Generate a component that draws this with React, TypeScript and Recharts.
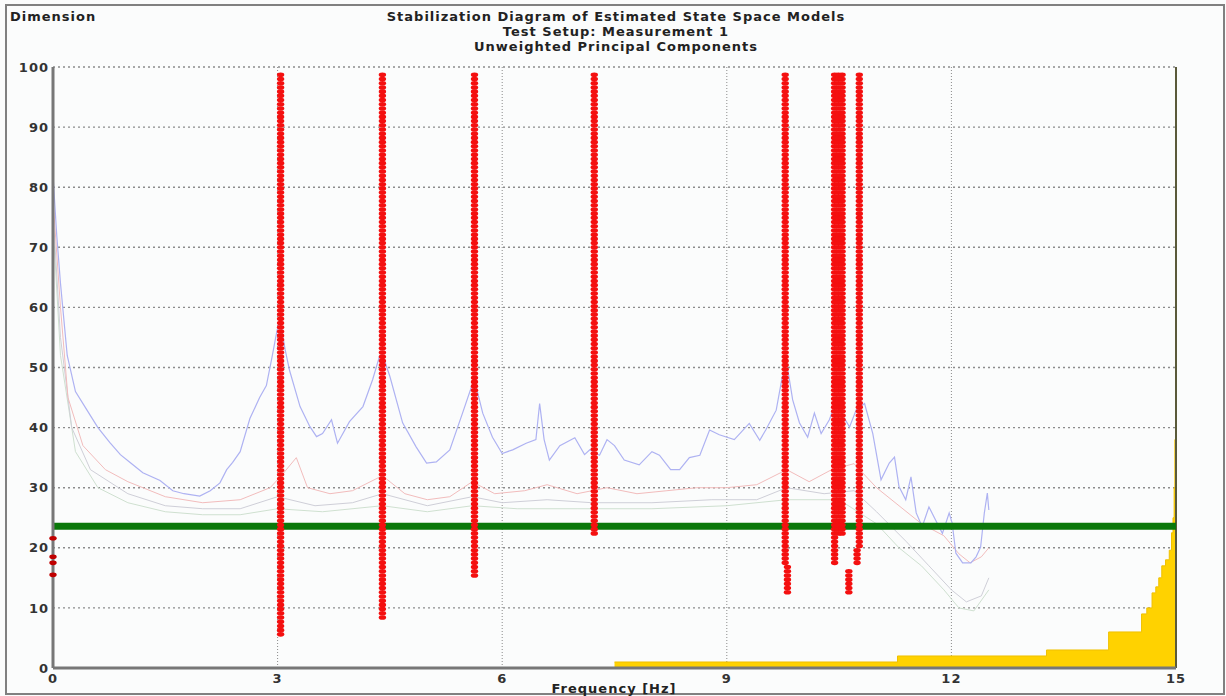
import React from 'react';
import { ComposedChart, Line, Scatter, Area, XAxis, YAxis, CartesianGrid, ReferenceLine } from 'recharts';

// model dimensions at which poles are estimated
const ORDERS = [
  5.6, 6.3, 7.0, 7.7, 8.4, 9.1, 9.8, 10.5, 11.2, 11.9, 12.6, 13.3, 14.0, 14.7, 15.4, 16.1, 16.8, 17.5, 18.2, 18.9,
  19.6, 20.3, 21.0, 21.7, 22.4, 23.1, 23.8, 24.5, 25.2, 25.9, 26.6, 27.3, 28.0, 28.7, 29.4, 30.1, 30.8, 31.5, 32.2, 32.9,
  33.6, 34.3, 35.0, 35.7, 36.4, 37.1, 37.8, 38.5, 39.2, 39.9, 40.6, 41.3, 42.0, 42.7, 43.4, 44.1, 44.8, 45.5, 46.2, 46.9,
  47.6, 48.3, 49.0, 49.7, 50.4, 51.1, 51.8, 52.5, 53.2, 53.9, 54.6, 55.3, 56.0, 56.7, 57.4, 58.1, 58.8, 59.5, 60.2, 60.9,
  61.6, 62.3, 63.0, 63.7, 64.4, 65.1, 65.8, 66.5, 67.2, 67.9, 68.6, 69.3, 70.0, 70.7, 71.4, 72.1, 72.8, 73.5, 74.2, 74.9,
  75.6, 76.3, 77.0, 77.7, 78.4, 79.1, 79.8, 80.5, 81.2, 81.9, 82.6, 83.3, 84.0, 84.7, 85.4, 86.1, 86.8, 87.5, 88.2, 88.9,
  89.6, 90.3, 91.0, 91.7, 92.4, 93.1, 93.8, 94.5, 95.2, 95.9, 96.6, 97.3, 98.0, 98.7,
];

// stable pole columns: frequency and the dimension range over which they appear
const POLE_FREQ = [3.04, 4.40, 5.63, 7.23, 9.78, 9.81, 10.44, 10.49, 10.54, 10.63, 10.77, 10.74];
const POLE_LOW = [5.6, 8.4, 15.4, 22.4, 17.5, 12.6, 17.5, 22.4, 22.4, 12.6, 20.3, 17.5];
const POLE_HIGH = [98.7, 98.7, 98.7, 98.7, 98.7, 17.0, 98.7, 98.7, 98.7, 16.1, 98.7, 19.6];

// spurious poles near 0 Hz
const ZERO_POLES = [15.5, 17.5, 18.5, 21.6];

const THRESHOLD = 23.6;

// spectrum curves (scaled to the dimension axis)
const BLUE_F = [0, 0.05, 0.1, 0.19, 0.3, 0.45, 0.6, 0.76, 0.9, 1.03, 1.2, 1.43, 1.6, 1.75, 1.96, 2.1, 2.23, 2.32, 2.4, 2.5,
  2.63, 2.76, 2.85, 2.93, 2.99, 3.03, 3.1, 3.16, 3.3, 3.43, 3.52, 3.6, 3.72, 3.8, 3.96, 4.14, 4.27, 4.36, 4.4, 4.5,
  4.67, 4.85, 4.99, 5.12, 5.3, 5.47, 5.59, 5.63, 5.74, 5.87, 6.0, 6.14, 6.32, 6.45, 6.5, 6.56, 6.63, 6.77, 6.97, 7.1,
  7.17, 7.3, 7.4, 7.5, 7.63, 7.83, 8.0, 8.1, 8.25, 8.37, 8.5, 8.64, 8.77, 8.9, 9.1, 9.3, 9.44, 9.52, 9.66, 9.74,
  9.81, 9.88, 9.97, 10.08, 10.17, 10.26, 10.37, 10.45, 10.55, 10.64, 10.73, 10.84, 10.95, 11.06, 11.17, 11.24, 11.3, 11.39, 11.46, 11.53,
  11.61, 11.7, 11.79, 11.88, 11.97, 12.01, 12.06, 12.15, 12.26, 12.33, 12.39, 12.44, 12.48, 12.5];
const BLUE_D = [82, 72, 64, 52, 46, 43, 40, 37.5, 35.5, 34.2, 32.5, 31.2, 29.5, 29, 28.6, 29.5, 30.8, 33, 34.2, 36,
  41.5, 45, 47, 52, 56, 58, 53, 49.5, 43.5, 40.2, 38.5, 39, 41.3, 37.4, 41, 43.5, 48, 51.8, 52.2, 48.5,
  40.8, 36.8, 34.1, 34.3, 36.3, 42.4, 46.8, 47.9, 42.4, 38.4, 35.7, 36.3, 37.4, 38, 44, 38, 34.6, 37, 38.3, 35.5,
  36.3, 35.4, 38, 37, 34.6, 33.8, 36, 35.4, 33, 33, 35, 35.4, 39.6, 38.8, 38, 40.7, 37.9, 39.6, 42.9, 48.4,
  50, 44.6, 40.8, 38.4, 42.4, 39, 41.3, 44, 42, 40.1, 43, 44, 39, 31.3, 34.1, 35.1, 30.2, 28, 31.8, 25.8,
  23.5, 26.8, 24.6, 22.4, 25.8, 24.1, 19.1, 17.5, 17.5, 18.5, 20.1, 25.8, 29.1, 26.3];

const PINK_F = [0, 0.1, 0.2, 0.4, 0.7, 1.0, 1.5, 2.0, 2.5, 2.9, 3.05, 3.25, 3.4, 3.7, 4.0, 4.4, 4.7, 5.0, 5.3, 5.6,
  5.9, 6.3, 6.6, 7.0, 7.4, 7.8, 8.2, 8.6, 9.0, 9.4, 9.8, 10.1, 10.4, 10.7, 11.0, 11.3, 11.6, 11.9, 12.1, 12.25, 12.4, 12.5];
const PINK_D = [78, 60, 45, 37, 33, 31, 28.5, 27.5, 28, 30, 32, 35, 30, 29, 29.5, 32, 29, 28, 28.5, 31,
  29, 29.5, 30.5, 29, 30, 29, 29.5, 30, 30, 30.5, 33, 31, 33, 34, 30, 27, 24, 22, 19, 17.5, 18.5, 20];

const GRAY_F = [0, 0.1, 0.25, 0.5, 1.0, 1.5, 2.0, 2.5, 3.0, 3.5, 4.0, 4.4, 5.0, 5.6, 6.0, 6.6, 7.2, 8.0, 8.8, 9.4,
  9.8, 10.3, 10.7, 11.0, 11.4, 11.7, 12.0, 12.2, 12.4, 12.5];
const GRAY_D = [76, 55, 40, 33, 29, 27, 26.5, 26.5, 28.5, 27, 27.5, 29, 27, 28.5, 27.5, 28, 27.5, 27.5, 28, 28,
  30, 29, 29.5, 26, 21, 17, 13, 11, 12, 15];

const GREEN_F = [0, 0.1, 0.3, 0.6, 1.0, 1.5, 2.0, 2.5, 3.0, 3.6, 4.4, 5.0, 5.6, 6.2, 7.0, 8.0, 9.0, 9.8, 10.5, 11.0,
  11.3, 11.6, 11.9, 12.1, 12.3, 12.5];
const GREEN_D = [74, 52, 36, 30, 27.5, 26, 25.5, 25.5, 26.5, 26, 27, 26, 27, 26.5, 26.5, 26.5, 27, 28, 28, 24,
  20, 17, 13, 10, 9.5, 13];

// pole count histogram (step curve along the bottom)
const HIST_F = [7.5, 11.28, 13.27, 14.1, 14.54, 14.61, 14.68, 14.73, 14.77, 14.81, 14.86, 14.91, 14.94, 14.96, 14.975, 14.985, 14.995, 15];
const HIST_D = [1, 2, 3, 6, 9, 10, 12.5, 13.5, 15, 17, 18, 19.6, 22.5, 25, 30, 38, 46, 52];

const X_TICKS = [0, 3, 6, 9, 12, 15];
const Y_TICKS = [0, 10, 20, 30, 40, 50, 60, 70, 80, 90, 100];

const zip = (fs: number[], ds: number[]) => fs.map((f, i) => ({ f, d: ds[i] }));

const poleData = POLE_FREQ.flatMap((f, i) =>
  ORDERS.filter((o) => o >= POLE_LOW[i] && o <= POLE_HIGH[i]).map((d) => ({ f, d }))
);
const zeroData = ZERO_POLES.map((d) => ({ f: 0, d }));
const thresholdData = [{ f: 0, d: THRESHOLD }, { f: 15, d: THRESHOLD }];

const FONT = '"DejaVu Sans", Verdana, sans-serif';

const PoleDot = (props: any) => (
  <ellipse cx={props.cx} cy={props.cy} rx={3.7} ry={2.3} fill={props.fill} />
);

const tickStyle = { fontFamily: FONT, fontWeight: 'bold', fontSize: 13, letterSpacing: 1, fill: '#333' };

const textStyle: React.CSSProperties = {
  position: 'absolute',
  fontFamily: FONT,
  fontWeight: 'bold',
  fontSize: 13,
  letterSpacing: 1,
  color: '#222',
  whiteSpace: 'nowrap',
  lineHeight: '15px',
};

export default function App() {
  return (
    <div style={{ position: 'absolute', left: 0, top: 0, width: 1226, height: 696, background: '#fbfcfc' }}>
      <div style={{ position: 'absolute', left: 5, top: 4, width: 1216, height: 687, border: '2px solid #808080' }} />
      <ComposedChart width={1226} height={696} margin={{ top: 67, right: 50, bottom: 0, left: 8 }}>
        <CartesianGrid vertical={false} stroke="#8c8c8c" strokeDasharray="2 3" strokeWidth={1.4} />
        <CartesianGrid horizontal={false} stroke="#8a8a8a" strokeDasharray="1 2" />
        <XAxis
          type="number"
          dataKey="f"
          domain={[0, 15]}
          ticks={X_TICKS}
          height={28}
          tickLine={false}
          tickSize={4}
          tickMargin={2}
          axisLine={{ stroke: '#777', strokeWidth: 3 }}
          tick={tickStyle}
        />
        <YAxis
          type="number"
          domain={[0, 100]}
          ticks={Y_TICKS}
          width={45}
          tickLine={false}
          tickSize={2}
          tickMargin={2}
          axisLine={{ stroke: '#777', strokeWidth: 3 }}
          tick={tickStyle}
        />
        <Area data={zip(HIST_F, HIST_D)} dataKey="d" type="stepAfter" fill="#ffd200" fillOpacity={1} stroke="#f0c000" strokeWidth={1} isAnimationActive={false} />
        <ReferenceLine x={15} stroke="#5a5a3a" strokeWidth={2} />
        <Line data={zip(GREEN_F, GREEN_D)} dataKey="d" type="linear" stroke="#cfe0d0" strokeWidth={1} dot={false} isAnimationActive={false} />
        <Line data={zip(GRAY_F, GRAY_D)} dataKey="d" type="linear" stroke="#cfcfd8" strokeWidth={1} dot={false} isAnimationActive={false} />
        <Line data={zip(PINK_F, PINK_D)} dataKey="d" type="linear" stroke="#f2bcbc" strokeWidth={1} dot={false} isAnimationActive={false} />
        <Line data={zip(BLUE_F, BLUE_D)} dataKey="d" type="linear" stroke="#aeb2f2" strokeWidth={1.2} dot={false} isAnimationActive={false} />
        <Line data={thresholdData} dataKey="d" type="linear" stroke="#0a780a" strokeWidth={7} dot={false} isAnimationActive={false} />
        <Scatter data={poleData} dataKey="d" fill="#f41010" shape={PoleDot} isAnimationActive={false} />
        <Scatter data={zeroData} dataKey="d" fill="#c00000" shape={PoleDot} isAnimationActive={false} />
      </ComposedChart>
      <div style={{ ...textStyle, left: 10, top: 9 }}>Dimension</div>
      <div style={{ ...textStyle, left: 300, width: 632, top: 9, textAlign: 'center' }}>
        Stabilization Diagram of Estimated State Space Models
        <br />
        Test Setup: Measurement 1
        <br />
        Unweighted Principal Components
      </div>
      <div style={{ ...textStyle, left: 514, width: 200, top: 681, textAlign: 'center' }}>Frequency [Hz]</div>
    </div>
  );
}
